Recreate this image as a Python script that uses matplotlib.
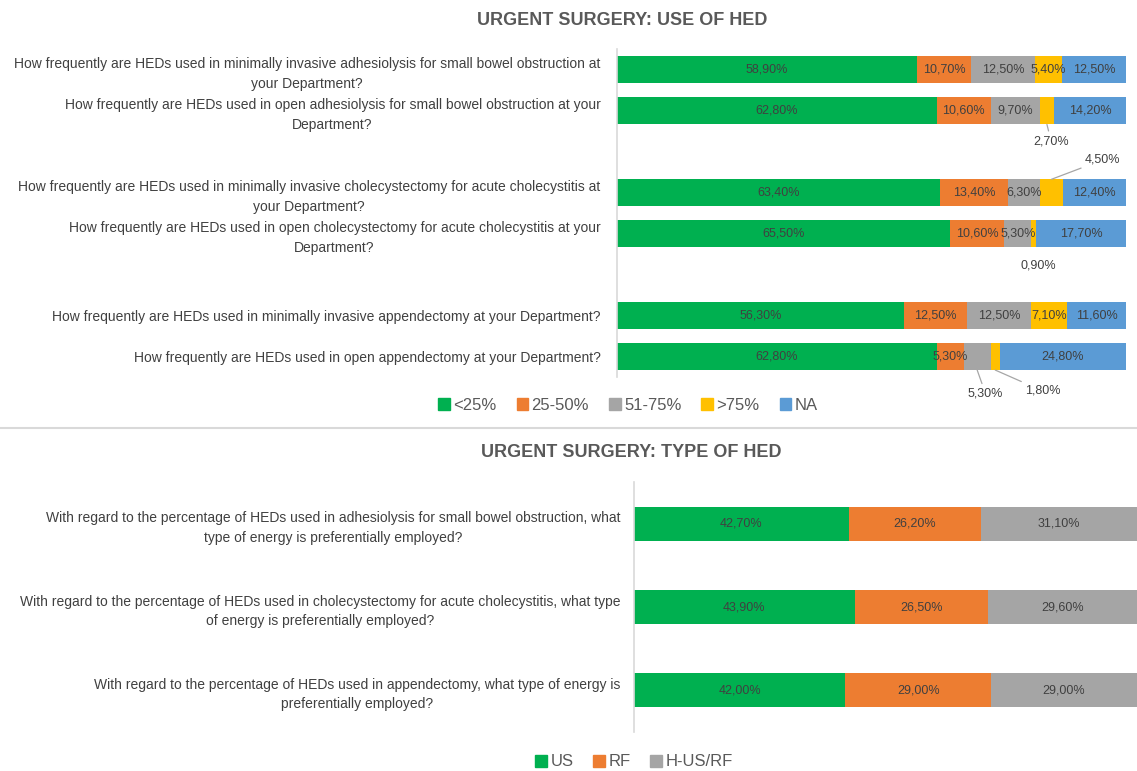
import matplotlib
matplotlib.use("Agg")
import matplotlib.pyplot as plt
import matplotlib.patches as mpatches
from matplotlib.lines import Line2D
import numpy as np

plt.rcParams["font.family"] = ["Liberation Sans", "DejaVu Sans"]

# ---- data: use of HED ----
use_labels = [
    "How frequently are HEDs used in minimally invasive adhesiolysis for small bowel obstruction at\nyour Department?",
    "How frequently are HEDs used in open adhesiolysis for small bowel obstruction at your\nDepartment?",
    "How frequently are HEDs used in minimally invasive cholecystectomy for acute cholecystitis at\nyour Department?",
    "How frequently are HEDs used in open cholecystectomy for acute cholecystitis at your\nDepartment?",
    "How frequently are HEDs used in minimally invasive appendectomy at your Department?",
    "How frequently are HEDs used in open appendectomy at your Department?",
]
use_series = ["<25%", "25-50%", "51-75%", ">75%", "NA"]
pct_lt25 = [58.9, 62.8, 63.4, 65.5, 56.3, 62.8]
pct_25_50 = [10.7, 10.6, 13.4, 10.6, 12.5, 5.3]
pct_51_75 = [12.5, 9.7, 6.3, 5.3, 12.5, 5.3]
pct_gt75 = [5.4, 2.7, 4.5, 0.9, 7.1, 1.8]
pct_na = [12.5, 14.2, 12.4, 17.7, 11.6, 24.8]

# ---- data: type of HED ----
type_labels = [
    "With regard to the percentage of HEDs used in adhesiolysis for small bowel obstruction, what\ntype of energy is preferentially employed?",
    "With regard to the percentage of HEDs used in cholecystectomy for acute cholecystitis, what type\nof energy is preferentially employed?",
    "With regard to the percentage of HEDs used in appendectomy, what type of energy is\npreferentially employed?",
]
type_series = ["US", "RF", "H-US/RF"]
pct_us = [42.7, 43.9, 42.0]
pct_rf = [26.2, 26.5, 29.0]
pct_hus = [31.1, 29.6, 29.0]

COLORS = ["#00B050", "#ED7D31", "#A5A5A5", "#FFC000", "#5B9BD5"]
TEXT = "#404040"
TITLE = "#595959"
GRID = "#D9D9D9"

# layout: pairs of bars separated by a gap
use_pos = [0, 1, 3, 4, 6, 7]
# labels drawn outside the bar: (row, series) -> (dx, dy in points, leader line)
outside = {
    (1, 3): (3, -12, True),
    (2, 3): (37, 14, True),
    (3, 3): (3, -13, False),
    (5, 2): (6, -17, True),
    (5, 3): (34, -15, True),
}


def fmt(v):
    return f"{v:.2f}".replace(".", ",") + "%"


def stacked(ax, pos, series_vals, height, outside_map):
    left = np.zeros(len(pos))
    for s, vals in enumerate(series_vals):
        vals = np.array(vals)
        ax.barh(pos, vals, left=left, height=height, color=COLORS[s], edgecolor="none")
        for r, (p, v, l) in enumerate(zip(pos, vals, left)):
            cx = l + v / 2
            if (r, s) in outside_map:
                dx, dy, line = outside_map[(r, s)]
                ey = p + height / 2 if dy < 0 else p - height / 2
                ax.annotate(fmt(v), xy=(cx, ey), xytext=(dx, dy), textcoords="offset points",
                            ha="center", va="center", fontsize=9, color=TEXT,
                            annotation_clip=False,
                            arrowprops=dict(arrowstyle="-", color="#A6A6A6", lw=0.9,
                                            shrinkA=1, shrinkB=0) if line else None)
            else:
                ax.text(cx, p, fmt(v), ha="center", va="center", fontsize=9, color=TEXT)
        left += vals


def style(ax, labels, pos, pad):
    ax.set_yticks(pos)
    ax.set_yticklabels(labels, fontsize=10, color=TEXT, multialignment="center",
                       linespacing=1.5)
    ax.tick_params(axis="y", length=0, pad=pad)
    ax.set_xticks([])
    ax.set_xlim(0, 100)
    for sp in ["top", "right", "bottom"]:
        ax.spines[sp].set_visible(False)
    ax.spines["left"].set_color(GRID)
    ax.spines["left"].set_linewidth(1.2)


fig = plt.figure(figsize=(11.37, 7.71), dpi=100)

ax1 = fig.add_axes([0.5427, 0.511, 0.4477, 0.4248])
stacked(ax1, use_pos, [pct_lt25, pct_25_50, pct_51_75, pct_gt75, pct_na], 0.66, outside)
style(ax1, use_labels, use_pos, 12)
ax1.set_ylim(7.5, -0.5)

ax2 = fig.add_axes([0.5576, 0.0512, 0.4424, 0.323])
type_pos = np.arange(len(type_labels))
stacked(ax2, type_pos, [pct_us, pct_rf, pct_hus], 0.4, {})
style(ax2, type_labels, type_pos, 10)
ax2.set_ylim(2.5, -0.5)

fig.text(0.547, 0.974, "URGENT SURGERY: USE OF HED", ha="center", va="center",
         fontsize=13, fontweight="bold", color=TITLE)
fig.text(0.555, 0.4137, "URGENT SURGERY: TYPE OF HED", ha="center", va="center",
         fontsize=13, fontweight="bold", color=TITLE)

fig.add_artist(Line2D([0, 1], [1 - 428 / 771] * 2, transform=fig.transFigure,
                      color=GRID, lw=1.5))

h1 = [mpatches.Patch(color=COLORS[i], label=s) for i, s in enumerate(use_series)]
fig.legend(handles=h1, loc="center", bbox_to_anchor=(0.5523, 1 - 405 / 771), ncol=5,
           frameon=False, fontsize=12, handlelength=0.7, handleheight=0.7,
           handletextpad=0.2, columnspacing=1.2, labelcolor=TITLE)
h2 = [mpatches.Patch(color=COLORS[i], label=s) for i, s in enumerate(type_series)]
fig.legend(handles=h2, loc="center", bbox_to_anchor=(0.5576, 1 - 762 / 771), ncol=3,
           frameon=False, fontsize=12, handlelength=0.7, handleheight=0.7,
           handletextpad=0.2, columnspacing=1.2, labelcolor=TITLE)

fig.savefig("out.png", dpi=100, facecolor="white")
